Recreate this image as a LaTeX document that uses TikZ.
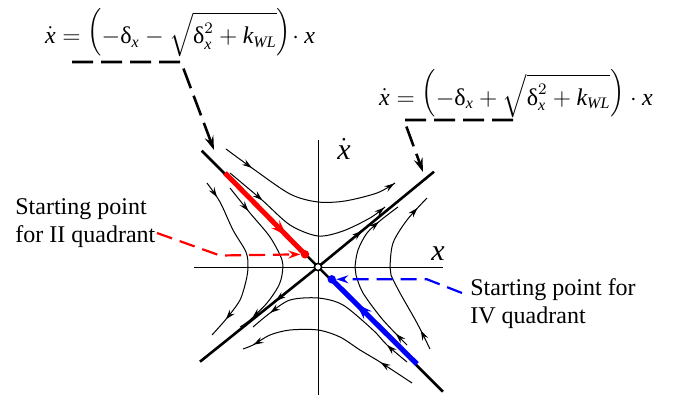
\documentclass[tikz,border=0pt]{standalone}
\usepackage{amsmath}
\usepackage{graphicx}
\usepackage{fontspec}
\setmainfont{Liberation Serif}
\usetikzlibrary{arrows.meta,decorations.markings}

\newcommand{\vx}{\textit{x}}
\newcommand{\dlt}{\text{δ}}
\newcommand{\lpar}{\mathopen{\raisebox{2.5pt}{\scalebox{1}[1.1]{$\Big($}}}}
\newcommand{\rpar}{\mathclose{\raisebox{2.5pt}{\scalebox{1}[1.1]{$\Big)$}}}}

\tikzset{
  tip/.tip={Stealth[length=5pt,width=3.2pt,inset=1.8pt]},
  traj/.style 2 args={line width=0.5pt, postaction={decorate},
    decoration={markings,
      mark=at position #1 with {\arrow{tip}},
      mark=at position #2 with {\arrow{tip}}}},
  separ/.style={line width=1.3pt},
  outarrow/.style={postaction={decorate},
    decoration={markings, mark=at position #1 with {\arrow{tip}}}},
  axisline/.style={line width=0.5pt},
  startline/.style={line width=2.5pt, postaction={decorate},
    decoration={markings, mark=at position #1 with
      {\arrow{Stealth[length=8pt,width=5.5pt,inset=3pt]}}}},
  dotnode/.style={circle, inner sep=0pt, minimum size=4.2pt},
  leader/.style={line width=1.3pt, dash pattern=on 10.5pt off 4pt,
    -{Stealth[length=7pt,width=4.5pt,inset=2.5pt]}},
  startdash/.style={line width=1.1pt, dash pattern=on 8pt off 4pt,
    -{Stealth[length=6pt,width=4pt,inset=2pt]}},
  formula/.style={inner sep=0pt, anchor=base, font=\fontsize{12}{14}\selectfont},
  axislabel/.style={inner sep=0pt, font=\fontsize{15}{18}\selectfont},
  notetext/.style={inner sep=0pt, align=left, anchor=west,
    font=\fontsize{12}{14}\selectfont},
}

\begin{document}
\begin{tikzpicture}[x=0.5pt, y=-0.5pt]
\useasboundingbox (0,0) rectangle (682,402);

% axes
\coordinate (xa) at (194,267);
\coordinate (xb) at (443,267);
\coordinate (ya) at (318,395);
\coordinate (yb) at (318,140);
\draw[axisline] (xa) -- (xb);
\draw[axisline] (ya) -- (yb);
\node[axislabel] (xlab) at (438,254) {\vx};
\node[axislabel] (ylab) at (344,149) {$\dot{\vx}$};

% trajectories
\draw[traj={0.17}{0.995}] plot[smooth] coordinates
  {(226,149) (252,168) (290,194) (318,202) (345,201) (377,193) (395,183)};
\draw[traj={0.23}{0.995}] plot[smooth] coordinates
  {(230,173) (262,200) (290,225) (318,236) (343,231) (370,218) (385,207)};
\draw[traj={0.10}{0.88}] plot[smooth] coordinates
  {(207,183) (220,202) (233,230) (246,252) (248,267) (246,281) (240,300) (227,318) (212,335)};
\draw[traj={0.17}{0.91}] plot[smooth] coordinates
  {(230,188) (250,213) (270,237) (282,260) (282,275) (278,287) (267,303) (250,320) (240,327)};
\draw[traj={0.14}{0.88}] plot[smooth] coordinates
  {(407,362) (387,345) (373,330) (343,305) (318,298) (290,300) (270,313) (253,327)};
\draw[traj={0.20}{0.94}] plot[smooth] coordinates
  {(412,383) (380,362) (360,350) (340,337) (318,330) (290,330) (270,335) (253,345) (243,349)};
\draw[traj={0.09}{0.86}] plot[smooth] coordinates
  {(407,345) (383,320) (363,293) (356,275) (355,267) (358,250) (367,233) (381,220) (398,207)};
\draw[traj={0.12}{0.92}] plot[smooth] coordinates
  {(430,349) (417,323) (400,293) (391,275) (390,267) (393,243) (407,220) (427,198)};

% separatrices
\coordinate (o) at (318,267);
\coordinate (s1) at (201.7,150.7);
\coordinate (s2) at (443,391.7);
\coordinate (u1) at (434,171.7);
\coordinate (u2) at (200,361.7);
\draw[separ] (s1) -- (s2);
\draw[separ, outarrow=0.38] (o) -- (u1);
\draw[separ, outarrow=0.36] (o) -- (u2);

% starting points
\coordinate (redfrom) at (225,173);
\coordinate (bluefrom) at (417,364);
\draw[red, startline=0.77] (redfrom) -- (305,254.3);
\draw[blue, startline=0.71] (bluefrom) -- (331.7,279.3);
\node[dotnode, fill=red] (rdot) at (305,254.3) {};
\node[dotnode, fill=blue] (bdot) at (331.7,279.3) {};
\node[circle, draw, fill=white, line width=0.8pt, inner sep=0pt,
  minimum size=3.6pt] (origin) at (o) {};

% formulas
\node[formula] (eqminus) at (180,43.5)
  {$\dot{\vx}=\lpar-\dlt_{\vx}-\sqrt{\dlt_{\vx}^2+\textit{k}_{\textit{WL}}}\rpar\!\cdot\vx$};
\node[formula] (eqplus) at (516,105)
  {$\dot{\vx}=\lpar-\dlt_{\vx}+\sqrt{\dlt_{\vx}^2+\textit{k}_{\textit{WL}}}\rpar\cdot\vx$};
\coordinate (tipminus) at (214,150);
\coordinate (tipplus) at (423,172);
\draw[leader] (72,62) -- (181,62) -- (tipminus);
\draw[leader] (513,120) -- (404,120) -- (tipplus);

% labels
\node[notetext] (startII) at (15,223) {Starting point\\for II quadrant};
\node[notetext] (startIV) at (470,304) {Starting point for\\IV quadrant};
\coordinate (rstart) at (157,233);
\coordinate (bstart) at (462,293);
\draw[red, startdash] (rstart) -- (220,255.5) -- (rdot);
\draw[blue, startdash] (bstart) -- (427,279.3) -- (bdot);
\end{tikzpicture}
\end{document}
